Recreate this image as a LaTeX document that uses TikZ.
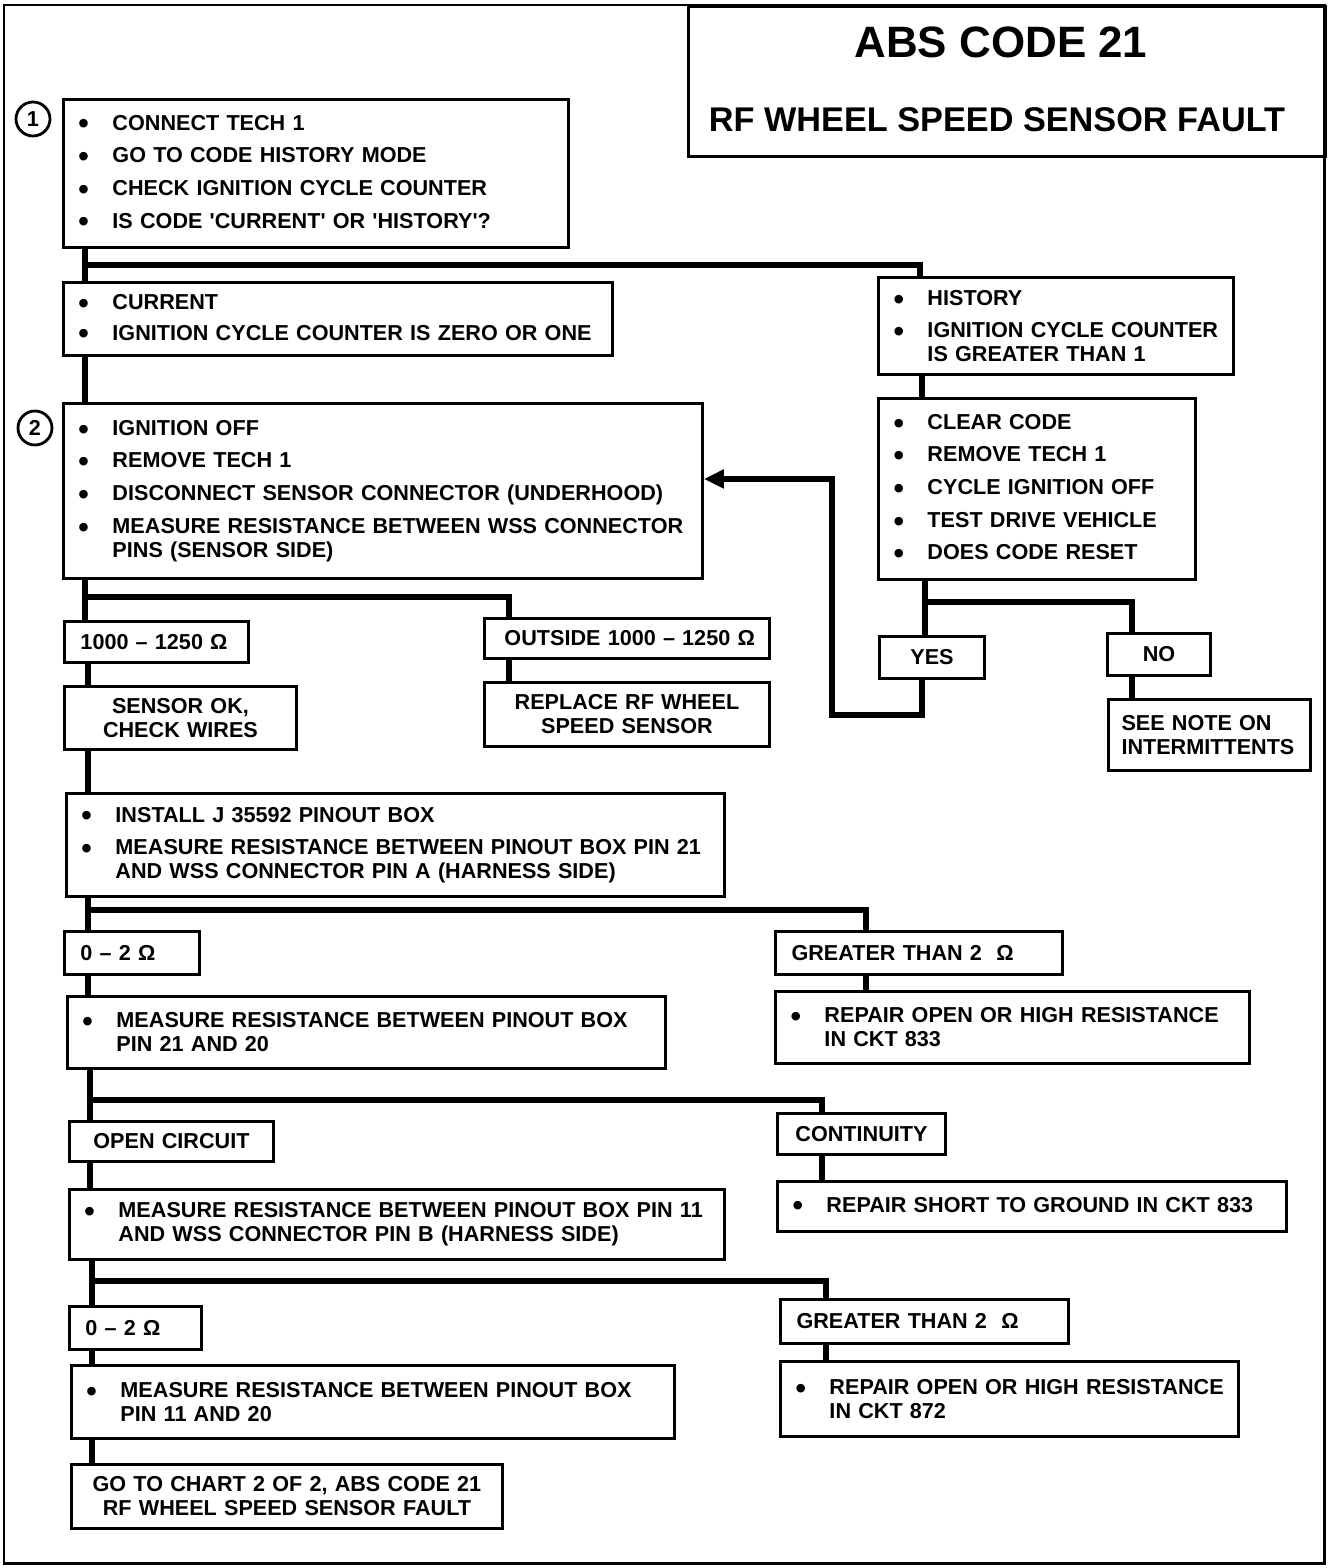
\documentclass[tikz,border=0pt]{standalone}
\usepackage{fontspec}
\setmainfont{Liberation Sans}
\usetikzlibrary{arrows.meta}
\newcommand\bodyfont{\fontsize{12.3}{13.6}\selectfont\bfseries}
\newcommand\bigdot{\raisebox{-2.2pt}{\fontsize{17}{17}\selectfont\textbullet}}
\newcommand\bul[1]{\mbox{\makebox[0.68cm][l]{\bigdot}#1}}
\newcommand\ind[1]{\mbox{\hspace*{0.68cm}#1}}
\begin{document}
\begin{tikzpicture}[x=0.02cm, y=-0.02cm,
  box/.style={draw, line width=1.7pt, anchor=north west, inner xsep=0.3cm,
    inner ysep=0pt, align=left, font=\bodyfont},
  cbox/.style={box, align=center},
  link/.style={line width=3pt},
  num/.style={draw, circle, line width=1.6pt, minimum size=0.68cm,
    inner sep=0pt, font=\bodyfont}]
  \useasboundingbox (0,0) rectangle (1344,1568);
  \draw[line width=1.7pt] (4,5) rectangle (1324,1563);

  % title
  \node[draw, line width=1.7pt, anchor=north west, minimum width=12.74cm,
    minimum height=3cm, inner sep=0pt] (title) at (687,5) {};
  \node[anchor=base, font=\fontsize{25}{30}\selectfont\bfseries] (titleA) at (1001,58) {ABS CODE 21};
  \node[anchor=base, font=\fontsize{19.5}{24}\selectfont\bfseries] (titleB) at (997,132) {RF WHEEL SPEED SENSOR FAULT};

  % step numbers
  \node[num] (n1) at (33,119) {1};
  \node[num] (n2) at (35,428) {2};

  % left column
  \node[box, text width=9.5cm, minimum height=2.96cm] (step1) at (62,98)
    {\bul{CONNECT TECH 1}\\[5pt]\bul{GO TO CODE HISTORY MODE}\\[5pt]
     \bul{CHECK IGNITION CYCLE COUNTER}\\[5pt]\bul{IS CODE \textquotesingle CURRENT\textquotesingle\ OR \textquotesingle HISTORY\textquotesingle ?}};
  \node[box, text width=10.38cm, minimum height=1.46cm] (current) at (62,281)
    {\bul{CURRENT}\\[4pt]\bul{IGNITION CYCLE COUNTER IS ZERO OR ONE}};
  \node[box, text width=12.18cm, minimum height=3.5cm] (step2) at (62,402)
    {\bul{IGNITION OFF}\\[5pt]\bul{REMOVE TECH 1}\\[5pt]
     \bul{DISCONNECT SENSOR CONNECTOR (UNDERHOOD)}\\[5pt]
     \bul{MEASURE RESISTANCE BETWEEN WSS CONNECTOR}\\\ind{PINS (SENSOR SIDE)}};
  \node[box, inner xsep=0.32cm, text width=3.04cm, minimum height=0.82cm] (inrange) at (63,620)
    {\mbox{1000 – 1250 Ω}};
  \node[box, inner xsep=0.4cm, text width=4.9cm, minimum height=0.8cm] (outrange) at (483,617)
    {\mbox{OUTSIDE 1000 – 1250 Ω}};
  \node[cbox, text width=4.04cm, minimum height=1.26cm] (sensorok) at (63,685)
    {\mbox{SENSOR OK,}\\\mbox{CHECK WIRES}};
  \node[cbox, text width=5.1cm, minimum height=1.28cm] (replace) at (483,681)
    {\mbox{REPLACE RF WHEEL}\\\mbox{SPEED SENSOR}};
  \node[box, text width=12.56cm, minimum height=2.06cm] (pinout) at (65,792)
    {\bul{INSTALL J 35592 PINOUT BOX}\\[5pt]
     \bul{MEASURE RESISTANCE BETWEEN PINOUT BOX PIN 21}\\\ind{AND WSS CONNECTOR PIN A (HARNESS SIDE)}};
  \node[box, inner xsep=0.32cm, text width=2.06cm, minimum height=0.86cm] (lowA) at (63,930)
    {\mbox{0 – 2 Ω}};
  \node[box, text width=11.36cm, minimum height=1.44cm] (measA) at (66,995)
    {\bul{MEASURE RESISTANCE BETWEEN PINOUT BOX}\\\ind{PIN 21 AND 20}};
  \node[cbox, text width=3.48cm, minimum height=0.8cm] (open) at (68,1120)
    {\mbox{OPEN CIRCUIT}};
  \node[box, text width=12.5cm, minimum height=1.4cm] (measB) at (68,1188)
    {\bul{MEASURE RESISTANCE BETWEEN PINOUT BOX PIN 11}\\\ind{AND WSS CONNECTOR PIN B (HARNESS SIDE)}};
  \node[box, inner xsep=0.32cm, text width=2cm, minimum height=0.86cm] (lowB) at (68,1305)
    {\mbox{0 – 2 Ω}};
  \node[box, text width=11.46cm, minimum height=1.46cm] (measC) at (70,1364)
    {\bul{MEASURE RESISTANCE BETWEEN PINOUT BOX}\\\ind{PIN 11 AND 20}};
  \node[cbox, text width=8.02cm, minimum height=1.28cm] (chart) at (70,1463)
    {\mbox{GO TO CHART 2 OF 2, ABS CODE 21}\\\mbox{RF WHEEL SPEED SENSOR FAULT}};

  % right column
  \node[box, text width=6.5cm, minimum height=1.94cm] (history) at (877,276)
    {\bul{HISTORY}\\[5pt]\bul{IGNITION CYCLE COUNTER}\\\ind{IS GREATER THAN 1}};
  \node[box, text width=5.74cm, minimum height=3.62cm] (clear) at (877,397)
    {\bul{CLEAR CODE}\\[5pt]\bul{REMOVE TECH 1}\\[5pt]\bul{CYCLE IGNITION OFF}\\[5pt]
     \bul{TEST DRIVE VEHICLE}\\[5pt]\bul{DOES CODE RESET}};
  \node[cbox, text width=1.5cm, minimum height=0.84cm] (yes) at (878,635) {YES};
  \node[cbox, text width=1.46cm, minimum height=0.84cm] (no) at (1106,632) {NO};
  \node[box, inner xsep=0.26cm, text width=3.52cm, minimum height=1.42cm] (note) at (1107,698)
    {\mbox{SEE NOTE ON}\\\mbox{INTERMITTENTS}};
  \node[box, inner xsep=0.32cm, text width=5.1cm, minimum height=0.86cm] (highA) at (774,930)
    {\mbox{GREATER THAN 2 \ Ω}};
  \node[box, text width=8.88cm, minimum height=1.44cm] (repairA) at (774,990)
    {\bul{REPAIR OPEN OR HIGH RESISTANCE}\\\ind{IN CKT 833}};
  \node[cbox, text width=2.76cm, minimum height=0.82cm] (cont) at (776,1112) {CONTINUITY};
  \node[box, text width=9.58cm, minimum height=1cm] (repairS) at (776,1180)
    {\bul{REPAIR SHORT TO GROUND IN CKT 833}};
  \node[box, inner xsep=0.32cm, text width=5.12cm, minimum height=0.88cm] (highB) at (779,1298)
    {\mbox{GREATER THAN 2 \ Ω}};
  \node[box, text width=8.56cm, minimum height=1.5cm] (repairB) at (779,1360)
    {\bul{REPAIR OPEN OR HIGH RESISTANCE}\\\ind{IN CKT 872}};

  % junctions and drop lines
  \coordinate (ja) at (85,265);
  \coordinate (jb) at (85,597);
  \coordinate (jc) at (88,910);
  \coordinate (jd) at (90,1100);
  \coordinate (je) at (92,1281);
  \coordinate (jf) at (925,602);
  \coordinate (ret) at (832,715);
  \coordinate (dh) at (920,0);
  \coordinate (dc) at (922,0);
  \coordinate (dn) at (1132,0);
  \coordinate (dr) at (509,0);
  \coordinate (dg) at (866,0);
  \coordinate (dk) at (822,0);
  \coordinate (dm) at (826,0);

  \draw[link] (step1.south -| ja) -- (current.north -| ja);
  \draw[link] (ja) -| (history.north -| dh);
  \draw[link] (current.south -| ja) -- (step2.north -| ja);
  \draw[link] (step2.south -| jb) -- (inrange.north -| jb);
  \draw[link] (jb) -| (outrange.north -| dr);
  \draw[link] (outrange.south -| dr) -- (replace.north -| dr);
  \draw[link] (inrange.south -| jc) -- (sensorok.north -| jc);
  \draw[link] (sensorok.south -| jc) -- (pinout.north -| jc);
  \draw[link] (pinout.south -| jc) -- (lowA.north -| jc);
  \draw[link] (jc) -| (highA.north -| dg);
  \draw[link] (highA.south -| dg) -- (repairA.north -| dg);
  \draw[link] (lowA.south -| jc) -- (measA.north -| jc);
  \draw[link] (measA.south -| jd) -- (open.north -| jd);
  \draw[link] (jd) -| (cont.north -| dk);
  \draw[link] (cont.south -| dk) -- (repairS.north -| dk);
  \draw[link] (open.south -| jd) -- (measB.north -| jd);
  \draw[link] (measB.south -| je) -- (lowB.north -| je);
  \draw[link] (je) -| (highB.north -| dm);
  \draw[link] (highB.south -| dm) -- (repairB.north -| dm);
  \draw[link] (lowB.south -| je) -- (measC.north -| je);
  \draw[link] (measC.south -| je) -- (chart.north -| je);
  \draw[link] (history.south -| dc) -- (clear.north -| dc);
  \draw[link] (clear.south -| jf) -- (yes.north -| jf);
  \draw[link] (jf) -| (no.north -| dn);
  \draw[link] (no.south -| dn) -- (note.north -| dn);
  \draw[link, -{Triangle[length=0.4cm, width=0.36cm]}]
    (yes.south -| dc) |- (ret) |- ([yshift=0.24cm]step2.east);
\end{tikzpicture}
\end{document}
